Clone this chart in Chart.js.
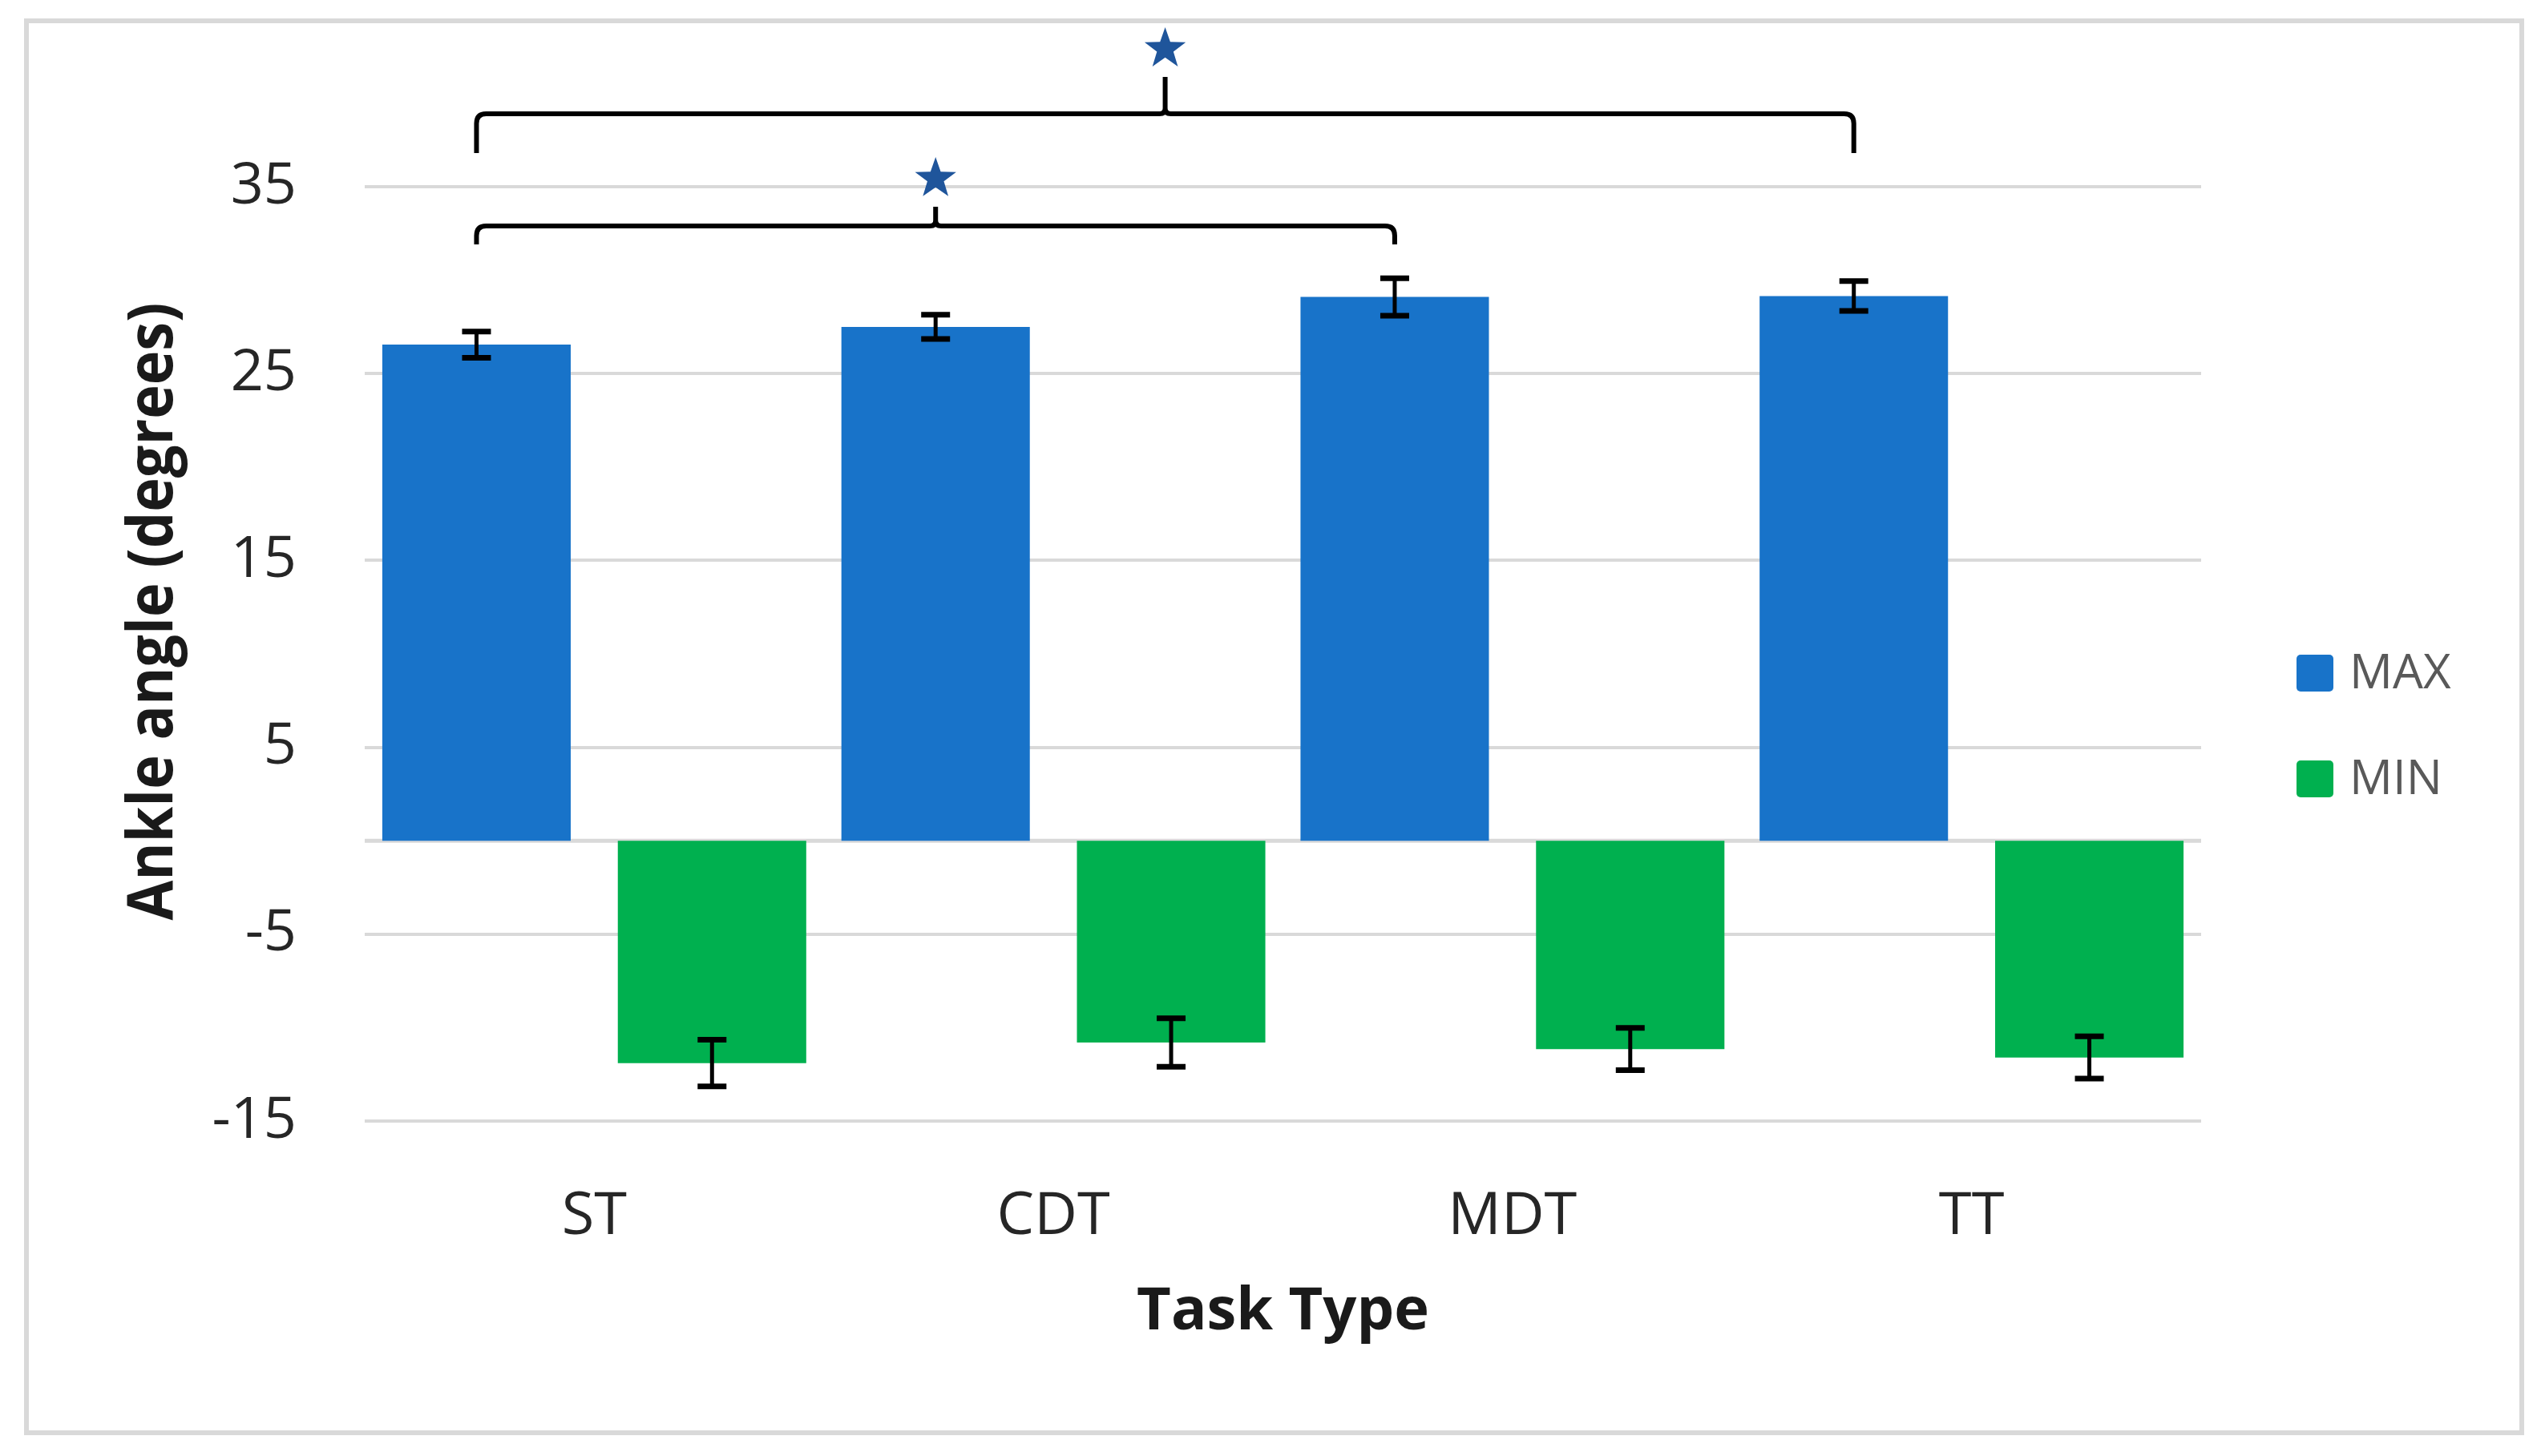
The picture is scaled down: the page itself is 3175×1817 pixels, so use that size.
<!DOCTYPE html>
<html lang="en">
<head>
    <meta charset="UTF-8">
    <title>Ankle angle by task type</title>
    <style>
        * { margin: 0; padding: 0; box-sizing: border-box; }
        body { background: #fff; }
        #chart { display: block; }
    </style>
</head>
<body>
    <canvas id="chart" width="3175" height="1817"></canvas>

    <script src="https://cdn.jsdelivr.net/npm/chart.js"></script>
    <script>
        // data
        const categories = ['ST', 'CDT', 'MDT', 'TT'];
        const maxValues = [26.55, 27.5, 29.1, 29.15];
        const maxErrors = [0.7, 0.65, 1.0, 0.8];
        const minValues = [-11.9, -10.8, -11.15, -11.6];
        const minErrors = [1.25, 1.3, 1.13, 1.13];
        const yTicks = [-15, -5, 5, 15, 25, 35];

        // significance brackets (between MAX bars)
        const sigFrom = ['ST', 'ST'];
        const sigTo = ['MDT', 'TT'];
        const sigLevel = [32.9, 38.9];

        const blue = '#1873C9';
        const green = '#00B04F';
        const font = 'Open Sans';

        // bracket look, per bracket
        const bracketLeg = [23, 49];
        const bracketTip = [24, 46];

        const backgroundFrame = {
            id: 'backgroundFrame',
            beforeDraw(chart) {
                const ctx = chart.ctx;
                ctx.save();
                ctx.fillStyle = '#fff';
                ctx.fillRect(0, 0, chart.width, chart.height);
                ctx.strokeStyle = '#d9d9d9';
                ctx.lineWidth = 6;
                ctx.strokeRect(33, 26, chart.width - 33 - 29, chart.height - 26 - 29);
                ctx.restore();
            }
        };

        const zeroLine = {
            id: 'zeroLine',
            beforeDatasetsDraw(chart) {
                const ctx = chart.ctx, a = chart.chartArea;
                const y0 = chart.scales.y.getPixelForValue(0);
                ctx.save();
                ctx.strokeStyle = '#d9d9d9';
                ctx.lineWidth = 5;
                ctx.beginPath();
                ctx.moveTo(a.left, y0);
                ctx.lineTo(a.right, y0);
                ctx.stroke();
                ctx.restore();
            }
        };

        const errorBars = {
            id: 'errorBars',
            afterDatasetsDraw(chart) {
                const ctx = chart.ctx, ys = chart.scales.y;
                const errs = [maxErrors, minErrors];
                ctx.save();
                ctx.strokeStyle = '#000';
                chart.data.datasets.forEach((ds, i) => {
                    chart.getDatasetMeta(i).data.forEach((bar, j) => {
                        const v = ds.data[j], e = errs[i][j];
                        const yHi = ys.getPixelForValue(v + e);
                        const yLo = ys.getPixelForValue(v - e);
                        ctx.lineWidth = 5;
                        ctx.beginPath();
                        ctx.moveTo(bar.x, yHi);
                        ctx.lineTo(bar.x, yLo);
                        ctx.stroke();
                        ctx.lineWidth = 7;
                        ctx.beginPath();
                        ctx.moveTo(bar.x - 18, yHi);
                        ctx.lineTo(bar.x + 18, yHi);
                        ctx.moveTo(bar.x - 18, yLo);
                        ctx.lineTo(bar.x + 18, yLo);
                        ctx.stroke();
                    });
                });
                ctx.restore();
            }
        };

        function drawStar(ctx, cx, cy, r) {
            ctx.beginPath();
            for (let k = 0; k < 10; k++) {
                const rad = k % 2 === 0 ? r : r * 0.4;
                const ang = -Math.PI / 2 + k * Math.PI / 5;
                const px = cx + rad * Math.cos(ang), py = cy + rad * Math.sin(ang);
                if (k === 0) ctx.moveTo(px, py); else ctx.lineTo(px, py);
            }
            ctx.closePath();
            ctx.fill();
        }

        const brackets = {
            id: 'brackets',
            afterDraw(chart) {
                const ctx = chart.ctx, ys = chart.scales.y;
                const bars = chart.getDatasetMeta(0).data;
                ctx.save();
                ctx.strokeStyle = '#000';
                ctx.lineWidth = 6;
                ctx.lineCap = 'butt';
                sigFrom.forEach((from, i) => {
                    const x1 = bars[categories.indexOf(from)].x;
                    const x2 = bars[categories.indexOf(sigTo[i])].x;
                    const xc = (x1 + x2) / 2;
                    const y = ys.getPixelForValue(sigLevel[i]);
                    const yLeg = y + bracketLeg[i];
                    const yTip = y - bracketTip[i];
                    const r = 12, rc = 7;
                    ctx.beginPath();
                    ctx.moveTo(x1, yLeg);
                    ctx.lineTo(x1, y + r);
                    ctx.quadraticCurveTo(x1, y, x1 + r, y);
                    ctx.lineTo(xc - rc, y);
                    ctx.quadraticCurveTo(xc, y, xc, y - rc);
                    ctx.lineTo(xc, yTip);
                    ctx.moveTo(xc, y - rc);
                    ctx.quadraticCurveTo(xc, y, xc + rc, y);
                    ctx.lineTo(x2 - r, y);
                    ctx.quadraticCurveTo(x2, y, x2, y + r);
                    ctx.lineTo(x2, yLeg);
                    ctx.stroke();
                    ctx.fillStyle = '#1F559B';
                    drawStar(ctx, xc, yTip - 35, 27);
                });
                ctx.restore();
            }
        };

        const yTitle = {
            id: 'yTitle',
            afterDraw(chart) {
                const ctx = chart.ctx, a = chart.chartArea;
                const text = 'Ankle angle (degrees)';
                ctx.save();
                ctx.font = 'bold 78px "' + font + '"';
                const w = ctx.measureText(text).width;
                ctx.translate(215, (a.top + a.bottom) / 2 - 53);
                ctx.rotate(-Math.PI / 2);
                ctx.scale(771 / w, 1);
                ctx.fillStyle = '#1a1a1a';
                ctx.textAlign = 'center';
                ctx.textBaseline = 'alphabetic';
                ctx.fillText(text, 0, 0);
                ctx.restore();
            }
        };

        const sideLegend = {
            id: 'sideLegend',
            afterDraw(chart) {
                const ctx = chart.ctx, a = chart.chartArea;
                const x = a.right + 119;
                ctx.save();
                ctx.font = '60px "' + font + '"';
                ctx.textBaseline = 'middle';
                chart.data.datasets.forEach((ds, i) => {
                    const cy = a.top + 607 + i * 132;
                    ctx.fillStyle = ds.backgroundColor;
                    ctx.beginPath();
                    ctx.roundRect(x, cy - 23, 46, 46, 5);
                    ctx.fill();
                    ctx.fillStyle = '#595959';
                    ctx.fillText(ds.label, x + 66, cy + 2);
                });
                ctx.restore();
            }
        };

        new Chart(document.getElementById('chart'), {
            type: 'bar',
            data: {
                labels: categories,
                datasets: [
                    { label: 'MAX', data: maxValues, backgroundColor: blue, borderWidth: 0 },
                    { label: 'MIN', data: minValues, backgroundColor: green, borderWidth: 0 }
                ]
            },
            options: {
                responsive: false,
                animation: false,
                devicePixelRatio: 1,
                categoryPercentage: 1.026,
                barPercentage: 0.8,
                layout: { padding: { left: 30, right: 429, top: 233, bottom: 0 } },
                plugins: {
                    legend: { display: false },
                    tooltip: { enabled: false }
                },
                scales: {
                    x: {
                        grid: { display: false },
                        border: { display: false },
                        ticks: { color: '#262626', font: { family: font, size: 74 }, padding: 68 },
                        title: {
                            display: true,
                            text: 'Task Type',
                            color: '#1a1a1a',
                            font: { family: font, size: 74, weight: 'bold' },
                            padding: { top: 0, bottom: 135 }
                        },
                        afterFit: s => { s.height = 418; }
                    },
                    y: {
                        min: -15,
                        max: 35,
                        afterBuildTicks: s => { s.ticks = yTicks.map(v => ({ value: v })); },
                        grid: { color: '#d9d9d9', lineWidth: 4, drawTicks: false },
                        border: { display: false },
                        ticks: { color: '#262626', font: { family: font, size: 72 }, padding: 85 },
                        afterFit: s => { s.width = 425; }
                    }
                }
            },
            plugins: [backgroundFrame, zeroLine, errorBars, brackets, yTitle, sideLegend]
        });
    </script>
</body>
</html>
